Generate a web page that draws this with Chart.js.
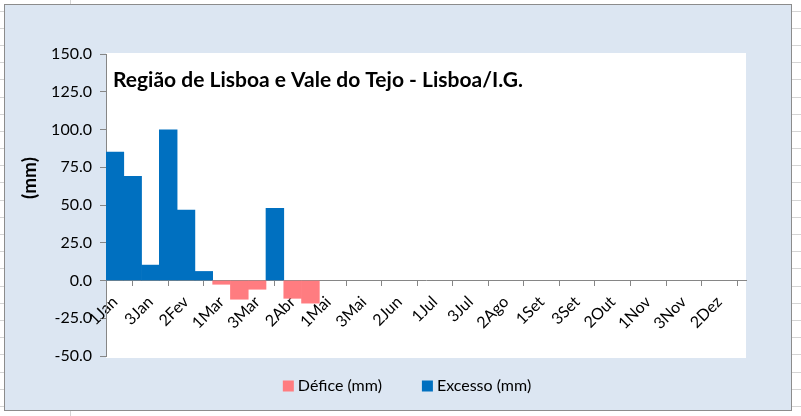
<!DOCTYPE html>
<html>
<head>
<meta charset="utf-8">
<script src="https://cdn.jsdelivr.net/npm/chart.js@4/dist/chart.umd.min.js"></script>
<style>
  html, body { margin: 0; padding: 0; background: #fff; }
  #wrap { position: relative; width: 801px; height: 416px; }
</style>
</head>
<body>
<div id="wrap"><canvas id="chart"></canvas></div>
<script>
// decêndios do ano
const decendios = ['1Jan','2Jan','3Jan','1Fev','2Fev','3Fev','1Mar','2Mar','3Mar','1Abr','2Abr','3Abr',
  '1Mai','2Mai','3Mai','1Jun','2Jun','3Jun','1Jul','2Jul','3Jul','1Ago','2Ago','3Ago',
  '1Set','2Set','3Set','1Out','2Out','3Out','1Nov','2Nov','3Nov','1Dez','2Dez','3Dez'];

const defice = [null, null, null, null, null, null, -2.5, -12.4, -5.8, null, -11.8, -15,
  null, null, null, null, null, null, null, null, null, null, null, null,
  null, null, null, null, null, null, null, null, null, null, null, null];

const excesso = [85, 69, 10.2, 99.7, 46.7, 6, null, null, null, 47.8, null, null,
  null, null, null, null, null, null, null, null, null, null, null, null,
  null, null, null, null, null, null, null, null, null, null, null, null];

const yTicks = [-50, -25, 0, 25, 50, 75, 100, 125, 150];

const titulo = 'Região de Lisboa e Vale do Tejo - Lisboa/I.G.';
const FONT = 'Lato, "Noto Sans", sans-serif';

// fundo, titulo, eixo e legenda estilo Excel
const excelPlugin = {
  id: 'excel',
  beforeDraw(chart) {
    const ctx = chart.ctx, a = chart.chartArea;
    ctx.save();
    ctx.fillStyle = '#fff';
    ctx.fillRect(0, 0, chart.width, chart.height);
    // linhas da folha de calculo
    ctx.strokeStyle = '#d4d4d4';
    ctx.lineWidth = 1;
    for (let y = 10.5; y < chart.height; y += 17.2) {
      ctx.beginPath();
      ctx.moveTo(0, Math.round(y) + 0.5); ctx.lineTo(4, Math.round(y) + 0.5);
      ctx.moveTo(792, Math.round(y) + 0.5); ctx.lineTo(801, Math.round(y) + 0.5);
      ctx.stroke();
    }
    ctx.beginPath();
    ctx.moveTo(70.5, 0); ctx.lineTo(70.5, 4);
    ctx.moveTo(70.5, 411); ctx.lineTo(70.5, 416);
    ctx.stroke();
    // area do grafico
    ctx.fillStyle = '#dce6f2';
    ctx.fillRect(4, 4, 788, 407);
    ctx.strokeStyle = '#8c8c8c';
    ctx.strokeRect(4.5, 4.5, 787, 406);
    // area de plotagem
    ctx.fillStyle = '#fff';
    ctx.fillRect(a.left, a.top - 1, a.right - a.left, a.bottom - a.top + 3);
    ctx.restore();
  },
  afterDraw(chart) {
    const ctx = chart.ctx;
    ctx.save();
    // titulo dentro da area de plotagem
    let size = 22;
    ctx.font = 'bold ' + size + 'px ' + FONT;
    while (ctx.measureText(titulo).width > 412 && size > 10) {
      size -= 0.5;
      ctx.font = 'bold ' + size + 'px ' + FONT;
    }
    ctx.fillStyle = '#000';
    ctx.textBaseline = 'alphabetic';
    ctx.fillText(titulo, 113, 87);
    // titulo do eixo y
    ctx.save();
    ctx.translate(30, 178);
    ctx.rotate(-Math.PI / 2);
    ctx.font = 'bold 19px ' + FONT;
    ctx.textAlign = 'center';
    ctx.textBaseline = 'middle';
    ctx.fillText('(mm)', 0, 0);
    ctx.restore();
    // legenda
    ctx.font = '16px ' + FONT;
    ctx.textBaseline = 'middle';
    ctx.textAlign = 'left';
    const items = chart.data.datasets;
    const gap = 40, box = 11;
    const widths = items.map(d => box + 4 + ctx.measureText(d.label).width);
    const total = widths.reduce((s, w) => s + w, 0) + gap * (items.length - 1);
    let x = 407 - total / 2;
    const y = 386;
    items.forEach((d, i) => {
      ctx.fillStyle = d.backgroundColor;
      ctx.fillRect(x, y - box / 2, box, box);
      ctx.fillStyle = '#000';
      ctx.fillText(d.label, x + box + 4, y);
      x += widths[i] + gap;
    });
    ctx.restore();
  }
};

new Chart(document.getElementById('chart'), {
  type: 'bar',
  data: {
    labels: decendios,
    datasets: [
      { label: 'Défice (mm)', data: defice, backgroundColor: '#ff7c80' },
      { label: 'Excesso (mm)', data: excesso, backgroundColor: '#0070c0' }
    ]
  },
  options: {
    responsive: true,
    maintainAspectRatio: false,
    animation: false,
    layout: { padding: { left: 0, right: 55, top: 54, bottom: 60 } },
    datasets: {
      bar: { grouped: false, barPercentage: 1, categoryPercentage: 1, borderWidth: 0 }
    },
    plugins: {
      legend: { display: false },
      tooltip: { enabled: false }
    },
    scales: {
      x: {
        position: { y: 0 },
        offset: true,
        grid: {
          offset: true,
          drawOnChartArea: false,
          drawTicks: true,
          tickLength: 5,
          color: '#868686'
        },
        border: { display: true, color: '#868686' },
        ticks: {
          autoSkip: false,
          maxRotation: 45,
          minRotation: 45,
          padding: 7,
          color: '#000',
          font: { family: FONT, size: 16 },
          callback: function (v, i) { return i % 2 === 0 ? this.getLabelForValue(v) : null; }
        }
      },
      y: {
        min: -50,
        max: 150,
        afterBuildTicks: (scale) => { scale.ticks = yTicks.map(v => ({ value: v })); },
        afterFit: (scale) => { scale.width = 106; },
        grid: {
          drawOnChartArea: false,
          drawTicks: true,
          tickLength: 6,
          color: '#868686'
        },
        border: { display: true, color: '#868686' },
        ticks: {
          padding: 8,
          color: '#000',
          font: { family: FONT, size: 16 },
          callback: (v) => Number(v).toFixed(1)
        }
      }
    }
  },
  plugins: [excelPlugin]
});
</script>
</body>
</html>
